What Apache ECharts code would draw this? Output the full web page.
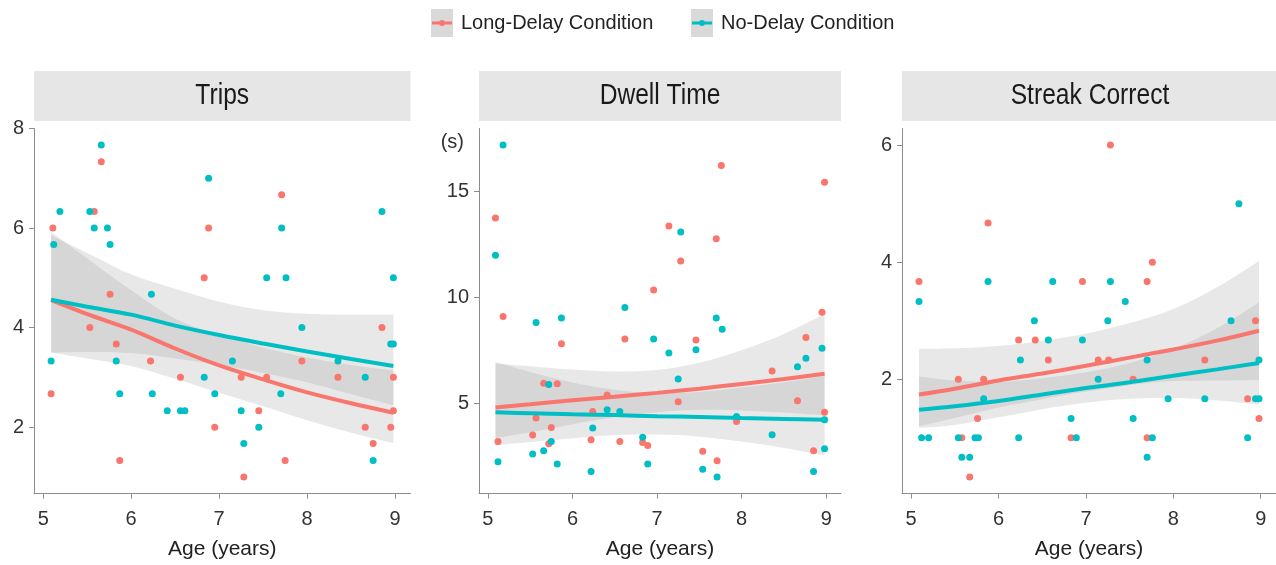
<!DOCTYPE html>
<html>
<head>
<meta charset="utf-8">
<script src="https://cdn.jsdelivr.net/npm/echarts@6/dist/echarts.min.js"></script>
<style>
html,body{margin:0;padding:0;background:#fff;}
#chart{width:1276px;height:565px;}
</style>
</head>
<body>
<div id="chart"></div>
<script>
// ---------- data ----------
const seriesNames = ['Long-Delay Condition', 'No-Delay Condition'];
const panelTitles = ['Trips', 'Dwell Time', 'Streak Correct'];
const xTicks = [5, 6, 7, 8, 9];
const tripsTicks = [2, 4, 6, 8];
const dwellTicks = [5, 10, 15];
const streakTicks = [2, 4, 6];

const tripsLong = [[5.11,6.0],[5.09,2.67],[5.53,4.0],[5.58,6.33],[5.66,7.33],[5.76,4.67],[5.83,3.67],[5.87,1.33],[6.22,3.33],[6.56,3.0],[6.83,5.0],[6.88,6.0],[6.95,2.0],[7.25,3.0],[7.28,1.0],[7.45,2.33],[7.54,3.0],[7.71,6.67],[7.75,1.33],[7.94,3.33],[8.35,3.0],[8.66,2.0],[8.75,1.67],[8.85,4.0],[8.95,2.0],[8.98,3.0],[8.98,2.33]];
const tripsNo = [[5.12,5.67],[5.19,6.33],[5.09,3.33],[5.53,6.33],[5.58,6.0],[5.66,7.67],[5.73,6.0],[5.76,5.67],[5.83,3.33],[5.87,2.67],[6.23,4.67],[6.24,2.67],[6.41,2.33],[6.56,2.33],[6.61,2.33],[6.83,3.0],[6.88,7.0],[6.95,2.67],[7.15,3.33],[7.25,2.33],[7.28,1.67],[7.45,2.0],[7.54,5.0],[7.70,2.67],[7.71,6.0],[7.76,5.0],[7.94,4.0],[8.35,3.33],[8.66,3.0],[8.75,1.33],[8.85,6.33],[8.95,3.67],[8.98,3.67],[8.98,5.0]];

const dwellLong = [[5.09,13.76],[5.18,9.1],[5.12,3.21],[5.53,3.51],[5.57,4.31],[5.66,5.96],[5.72,3.1],[5.75,3.87],[5.82,5.93],[5.87,7.82],[6.22,3.29],[6.24,4.62],[6.41,5.4],[6.56,3.21],[6.62,8.04],[6.83,3.16],[6.89,3.02],[6.96,10.36],[7.14,13.38],[7.25,5.08],[7.28,11.73],[7.46,8.0],[7.54,2.74],[7.70,12.78],[7.71,2.3],[7.76,16.23],[7.94,4.15],[8.36,6.53],[8.66,5.13],[8.76,8.11],[8.85,2.77],[8.95,9.31],[8.98,15.44],[8.98,4.58]];
const dwellNo = [[5.18,17.2],[5.09,12.0],[5.12,2.25],[5.53,2.61],[5.57,8.82],[5.66,2.77],[5.72,5.9],[5.75,3.21],[5.82,2.14],[5.87,9.03],[6.22,1.79],[6.24,3.84],[6.41,4.7],[6.56,4.62],[6.62,9.53],[6.83,3.4],[6.89,2.14],[6.96,8.04],[7.14,7.38],[7.25,6.15],[7.28,13.1],[7.46,7.53],[7.54,1.9],[7.70,9.03],[7.71,1.53],[7.77,8.5],[7.94,4.39],[8.36,3.52],[8.66,6.73],[8.76,7.14],[8.85,1.79],[8.95,7.61],[8.98,4.23],[8.98,2.86]];

const streakLong = [[5.09,3.67],[5.54,2.0],[5.58,1.0],[5.67,0.33],[5.76,1.33],[5.83,2.0],[5.88,4.67],[6.23,2.67],[6.42,2.67],[6.57,2.33],[6.83,1.0],[6.96,3.67],[7.14,2.33],[7.26,2.33],[7.28,6.0],[7.54,2.0],[7.70,3.67],[7.70,1.0],[7.76,4.0],[8.36,2.33],[8.85,1.67],[8.94,3.0],[8.98,1.33]];
const streakNo = [[5.09,3.33],[5.12,1.0],[5.20,1.0],[5.54,1.0],[5.58,0.67],[5.67,0.67],[5.73,1.0],[5.77,1.0],[5.83,1.67],[5.88,3.67],[6.23,1.0],[6.25,2.33],[6.41,3.0],[6.57,2.67],[6.62,3.67],[6.83,1.33],[6.89,1.0],[6.96,2.67],[7.14,2.0],[7.25,3.0],[7.28,3.67],[7.45,3.33],[7.54,1.33],[7.70,2.33],[7.70,0.67],[7.76,1.0],[7.94,1.67],[8.36,1.67],[8.66,3.0],[8.75,5.0],[8.85,1.0],[8.94,1.67],[8.98,1.67],[8.98,2.33]];

// fitted curves and confidence bands, read at these ages
const fitAges = [5.09, 5.5, 6, 6.5, 7, 7.5, 8, 8.5, 8.98];
const tripsLongFit   = [4.55, 4.27, 3.96, 3.58, 3.24, 2.96, 2.70, 2.48, 2.29];
const tripsLongUpper = [5.92, 5.39, 4.75, 4.18, 3.86, 3.60, 3.40, 3.25, 3.14];
const tripsLongLower = [3.50, 3.38, 3.23, 2.97, 2.69, 2.42, 2.14, 1.89, 1.68];
const tripsNoFit     = [4.56, 4.42, 4.26, 4.04, 3.85, 3.68, 3.52, 3.37, 3.23];
const tripsNoUpper   = [5.85, 5.50, 5.07, 4.78, 4.52, 4.35, 4.28, 4.26, 4.26];
const tripsNoLower   = [3.50, 3.51, 3.49, 3.38, 3.25, 3.09, 2.90, 2.66, 2.44];

const dwellLongFit   = [4.81, 4.96, 5.15, 5.32, 5.50, 5.70, 5.92, 6.15, 6.40];
const dwellLongUpper = [6.89, 6.76, 6.60, 6.51, 6.58, 6.92, 7.51, 8.28, 9.22];
const dwellLongLower = [3.36, 3.64, 4.02, 4.35, 4.59, 4.70, 4.67, 4.57, 4.44];
const dwellNoFit     = [4.58, 4.54, 4.49, 4.45, 4.40, 4.36, 4.31, 4.27, 4.23];
const dwellNoUpper   = [6.96, 6.49, 5.99, 5.65, 5.48, 5.54, 5.75, 6.00, 6.30];
const dwellNoLower   = [3.02, 3.18, 3.36, 3.50, 3.53, 3.43, 3.20, 2.90, 2.55];

const streakLongFit   = [1.74, 1.84, 1.98, 2.10, 2.23, 2.37, 2.51, 2.66, 2.83];
const streakLongUpper = [2.52, 2.53, 2.57, 2.66, 2.78, 2.96, 3.20, 3.57, 4.02];
const streakLongLower = [1.20, 1.34, 1.52, 1.66, 1.79, 1.90, 1.97, 1.98, 1.99];
const streakNoFit     = [1.48, 1.54, 1.63, 1.74, 1.85, 1.95, 2.06, 2.17, 2.28];
const streakNoUpper   = [2.05, 1.98, 1.96, 2.02, 2.12, 2.28, 2.52, 2.87, 3.31];
const streakNoLower   = [1.17, 1.22, 1.35, 1.49, 1.60, 1.67, 1.68, 1.64, 1.57];

// ---------- styling / layout ----------
const RED = '#F8766D', BLUE = '#00BFC4';
const RIBBON = 'rgba(150,150,150,0.22)';
const AXIS = '#8c8c8c';
const FONT = '"Liberation Sans", Arial, sans-serif';

const panels = [
  {title: panelTitles[0], grid: {left: 34, top: 128.5, width: 376.5, height: 365}, x: [4.8955, 9.1745], y: [0.667, 8.0], yTicks: tripsTicks,
   pts: [tripsLong, tripsNo], fit: [tripsLongFit, tripsNoFit], up: [tripsLongUpper, tripsNoUpper], lo: [tripsLongLower, tripsNoLower]},
  {title: panelTitles[1], grid: {left: 479, top: 128.5, width: 362, height: 365}, x: [4.8955, 9.1745], y: [0.75, 17.98], yTicks: dwellTicks,
   pts: [dwellLong, dwellNo], fit: [dwellLongFit, dwellNoFit], up: [dwellLongUpper, dwellNoUpper], lo: [dwellLongLower, dwellNoLower]},
  {title: panelTitles[2], grid: {left: 902, top: 128.5, width: 376, height: 365}, x: [4.8955, 9.1745], y: [0.05, 6.283], yTicks: streakTicks,
   pts: [streakLong, streakNo], fit: [streakLongFit, streakNoFit], up: [streakLongUpper, streakNoUpper], lo: [streakLongLower, streakNoLower]}
];

const colors = [RED, BLUE];
const grid = [], xAxis = [], yAxis = [], series = [], graphic = [];

panels.forEach((p, gi) => {
  grid.push(Object.assign({containLabel: false}, p.grid));
  xAxis.push({
    type: 'value', gridIndex: gi, min: p.x[0], max: p.x[1],
    axisLine: {show: true, onZero: false, lineStyle: {color: AXIS, width: 1}},
    axisTick: {show: true, length: 5, customValues: xTicks, lineStyle: {color: AXIS}},
    axisLabel: {customValues: xTicks, fontSize: 20, color: '#333', margin: 16, fontFamily: FONT},
    splitLine: {show: false},
    name: 'Age (years)', nameLocation: 'middle', nameGap: 45,
    nameTextStyle: {fontSize: 21, color: '#222', fontFamily: FONT}
  });
  yAxis.push({
    type: 'value', gridIndex: gi, min: p.y[0], max: p.y[1],
    axisLine: {show: true, onZero: false, lineStyle: {color: AXIS, width: 1}},
    axisTick: {show: true, length: 5, customValues: p.yTicks, lineStyle: {color: AXIS}},
    axisLabel: {customValues: p.yTicks, fontSize: 20, color: '#333', margin: 10, fontFamily: FONT},
    splitLine: {show: false}
  });
  // confidence ribbons: stacked lower edge + band height.
  // value is listed first so that the y dimension is the stacked one.
  [0, 1].forEach(k => {
    const st = 'band' + gi + '_' + k;
    series.push({
      type: 'line', xAxisIndex: gi, yAxisIndex: gi, stack: st, stackStrategy: 'all', silent: true, z: 1,
      encode: {x: 1, y: 0},
      symbol: 'none', smooth: 0.35, lineStyle: {opacity: 0, width: 0},
      data: fitAges.map((a, i) => [p.lo[k][i], a])
    });
    series.push({
      type: 'line', xAxisIndex: gi, yAxisIndex: gi, stack: st, stackStrategy: 'all', silent: true, z: 1,
      encode: {x: 1, y: 0},
      symbol: 'none', smooth: 0.35, lineStyle: {opacity: 0, width: 0},
      areaStyle: {color: RIBBON, opacity: 1},
      data: fitAges.map((a, i) => [p.up[k][i] - p.lo[k][i], a])
    });
  });
  // points
  [0, 1].forEach(k => {
    series.push({
      type: 'scatter', name: seriesNames[k], xAxisIndex: gi, yAxisIndex: gi, z: 2,
      symbolSize: 7, itemStyle: {color: colors[k], opacity: 1},
      data: p.pts[k]
    });
  });
  // fitted lines
  [0, 1].forEach(k => {
    series.push({
      type: 'line', name: seriesNames[k], xAxisIndex: gi, yAxisIndex: gi, z: 3,
      symbol: 'none', smooth: 0.35, itemStyle: {color: colors[k]},
      lineStyle: {width: 4, color: colors[k]},
      data: fitAges.map((a, i) => [a, p.fit[k][i]])
    });
  });
  // strip
  graphic.push({type: 'rect', z: 0, shape: {x: p.grid.left, y: 71, width: p.grid.width, height: 50}, style: {fill: '#e6e6e6'}});
  graphic.push({type: 'text', z: 1, x: p.grid.left + p.grid.width / 2, y: 96, scaleX: 0.82,
    style: {text: p.title, fill: '#1a1a1a', fontSize: 30, fontFamily: FONT, align: 'center', verticalAlign: 'middle', textAlign: 'center', textVerticalAlign: 'middle'}});
});

// "(s)" unit label on Dwell Time axis
graphic.push({type: 'text', z: 1, x: 464, y: 142,
  style: {text: '(s)', fill: '#333', fontSize: 20, fontFamily: FONT, align: 'right', verticalAlign: 'middle', textAlign: 'right', textVerticalAlign: 'middle'}});
// legend key backgrounds
graphic.push({type: 'rect', z: 0, shape: {x: 431, y: 9, width: 22, height: 28}, style: {fill: '#d9d9d9'}});
graphic.push({type: 'rect', z: 0, shape: {x: 691, y: 9, width: 22, height: 28}, style: {fill: '#d9d9d9'}});

const ICON = 'path://M0,1.5L20,1.5L20,4.5L0,4.5Z M7,3A3,3 0 1,1 13,3A3,3 0 1,1 7,3Z';
const legendBase = {
  orient: 'horizontal', top: 13, padding: 0, itemWidth: 20, itemHeight: 6, selectedMode: false, z: 5,
  textStyle: {fontSize: 20, color: '#222', fontFamily: FONT, padding: [0, 0, 0, 4]}
};
const legend = [
  Object.assign({}, legendBase, {left: 432, data: [{name: seriesNames[0], icon: ICON, itemStyle: {color: RED}}]}),
  Object.assign({}, legendBase, {left: 692, data: [{name: seriesNames[1], icon: ICON, itemStyle: {color: BLUE}}]})
];

const chart = echarts.init(document.getElementById('chart'), null, {renderer: 'canvas'});
chart.setOption({
  animation: false,
  backgroundColor: '#fff',
  grid, xAxis, yAxis, series, legend, graphic
});
</script>
</body>
</html>
